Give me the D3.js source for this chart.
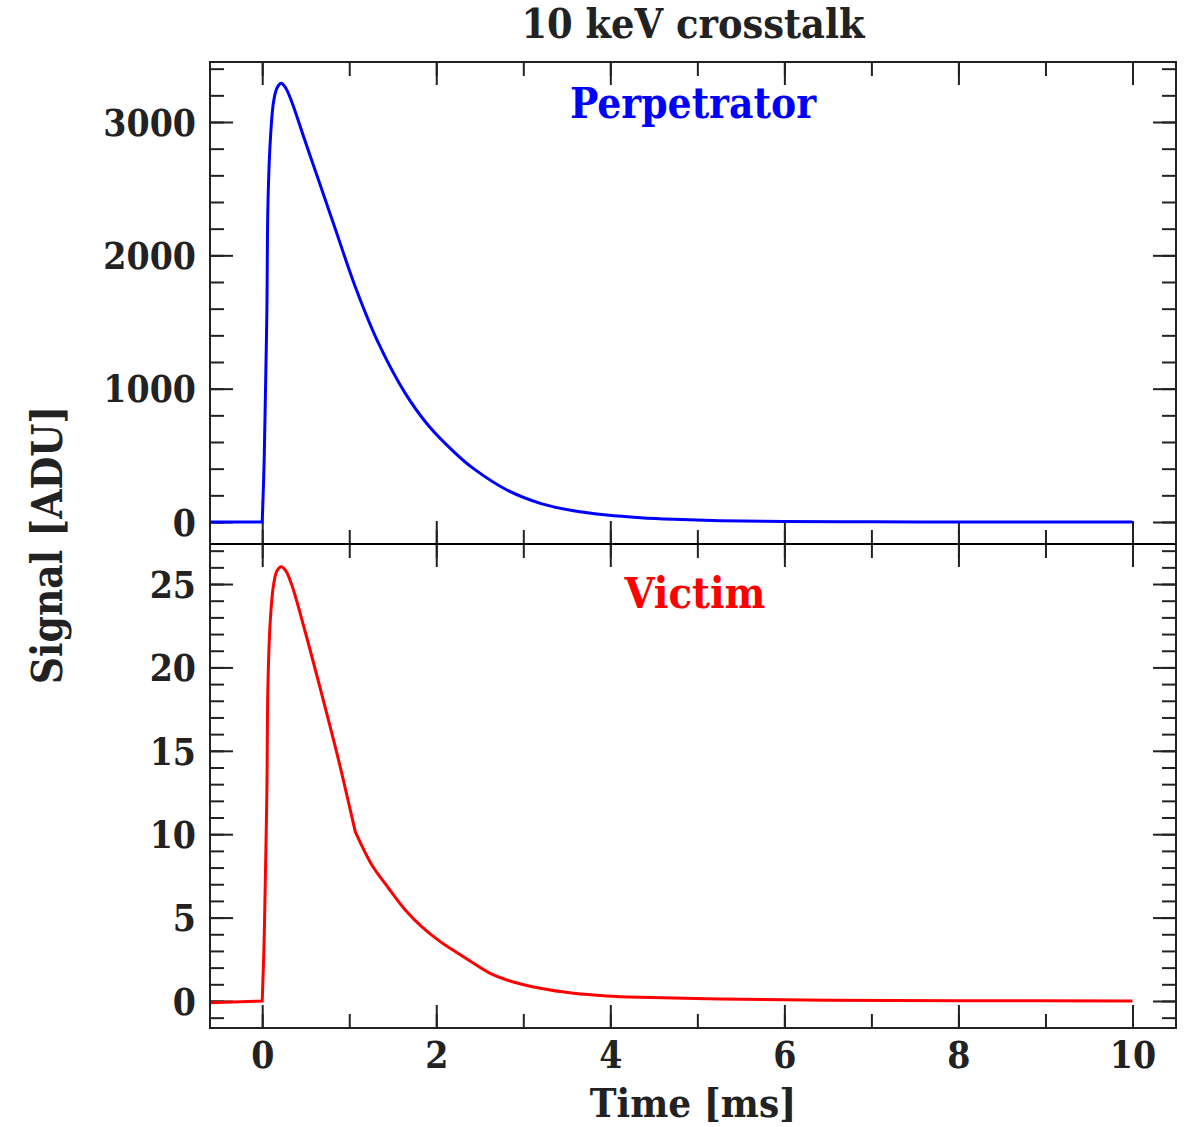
<!DOCTYPE html>
<html><head><meta charset="utf-8">
<script src="https://cdn.jsdelivr.net/npm/d3@7"></script>
<style>
html,body{margin:0;padding:0;background:#fff;}
svg text{font-family:"DejaVu Serif Condensed","DejaVu Serif",serif;font-weight:bold;}
</style></head>
<body>
<svg id="c" width="1189" height="1127"></svg>
<script>
// ---- data ----
const titleText = "10 keV crosstalk";
const xLabel = "Time [ms]";
const yLabel = "Signal [ADU]";
const perpName = "Perpetrator";
const victimName = "Victim";

const perpT = [-0.6, 0.0, 0.02, 0.034, 0.054, 0.065, 0.092, 0.13, 0.17, 0.218, 0.27, 0.34, 0.494, 0.647, 0.839, 1.069, 1.337, 1.644, 1.912, 2.218, 2.429, 2.812, 3.195, 3.578, 3.96, 4.345, 4.73, 5.26, 6.0, 7.0, 8.0, 9.0, 10.0];
const perpV = [0, 0, 400, 855, 1605, 2355, 2850, 3150, 3255, 3290, 3255, 3150, 2855, 2565, 2200, 1765, 1340, 965, 722, 517, 400, 240, 140, 84, 52, 32, 20, 10, 4, 1, 0, 0, 0];
const perpBreaks = [1];          // indices where the trace has a sharp corner

const victT = [-0.6, 0.0, 0.02, 0.034, 0.054, 0.065, 0.092, 0.13, 0.17, 0.218, 0.27, 0.34, 0.494, 0.686, 0.877, 1.069, 1.26, 1.452, 1.644, 1.835, 2.046, 2.218, 2.429, 2.62, 2.812, 3.195, 3.578, 3.96, 4.345, 5.26, 6.5, 8.0, 10.0];
const victV = [-0.1, 0, 3.2, 6.76, 12.75, 18.75, 22.74, 24.94, 25.8, 26.04, 25.8, 24.94, 22.14, 18.35, 14.45, 10.15, 8.15, 6.76, 5.46, 4.45, 3.56, 2.96, 2.26, 1.66, 1.26, 0.76, 0.46, 0.30, 0.22, 0.12, 0.05, 0.02, 0.0];
const victBreaks = [1, 15];

const xMajor = [0, 2, 4, 6, 8, 10];
const xMinor = [0, 1, 2, 3, 4, 5, 6, 7, 8, 9, 10];
const topMajor = [0, 1000, 2000, 3000];
const topMinor = d3.range(0, 3401, 200);
const botMajor = [0, 5, 10, 15, 20, 25];
const botMinor = d3.range(-1, 28, 1);

// ---- layout ----
const L = 210, R = 1176, T = 62, M = 544, B = 1028;
const MAJ = 23, MIN = 14;
const ink = "#222";

const svg = d3.select("#c");
const x = d3.scaleLinear().domain([-0.6, 10.5]).range([L, R]);
const yTop = d3.scaleLinear().domain([-165, 3450]).range([M, T]);
const yBot = d3.scaleLinear().domain([-1.62, 27.4]).range([B, M]);

function styleAxis(g){
  g.select(".domain").remove();
  g.selectAll(".tick line").attr("stroke", ink).attr("stroke-width", 2);
  g.selectAll(".tick text").attr("fill", ink);
}

function xAxes(yPos, dir, labels){
  const mk = (vals, size, fmt) => {
    const a = d3.axisBottom(x).tickValues(vals).tickSizeInner(dir*size).tickSizeOuter(0);
    if (!fmt) a.tickFormat("");
    const g = svg.append("g").attr("transform", `translate(0,${yPos})`).call(a);
    styleAxis(g);
    return g;
  };
  mk(xMinor, MIN, false);
  const g = mk(xMajor, MAJ, labels);
  if (labels){
    g.selectAll(".tick text").attr("y", 40).attr("dy", 0).attr("font-size", 37);
  }
}
function yAxes(scale, major, minor, fmt){
  const mk = (vals, size, side, lab) => {
    const a = (side === "left" ? d3.axisLeft(scale) : d3.axisRight(scale))
      .tickValues(vals).tickSizeInner(-size).tickSizeOuter(0).tickPadding(14);
    if (!lab) a.tickFormat(""); else a.tickFormat(fmt);
    const g = svg.append("g").attr("transform", `translate(${side==="left"?L:R},0)`).call(a);
    styleAxis(g);
    if (lab) g.selectAll(".tick text").attr("font-size", 37).attr("dy", "0.36em");
  };
  mk(minor, MIN, "left", false);
  mk(major, MAJ, "left", true);
  mk(minor, MIN, "right", false);
  mk(major, MAJ, "right", false);
}

// top panel
yAxes(yTop, topMajor, topMinor.filter(v => v >= -165 && v <= 3450), d3.format("d"));
xAxes(T, 1, false);
xAxes(M, -1, false);
// bottom panel
yAxes(yBot, botMajor, botMinor.filter(v => v >= -1.62 && v <= 27.4), d3.format("d"));
xAxes(M, 1, false);
xAxes(B, -1, true);

// clip paths
svg.append("clipPath").attr("id","cpTop").append("rect").attr("x",L).attr("y",T).attr("width",R-L).attr("height",M-T);
svg.append("clipPath").attr("id","cpBot").append("rect").attr("x",L).attr("y",M).attr("width",R-L).attr("height",B-M);

function pieces(ts, vs, breaks){
  const cuts = [0, ...breaks, ts.length-1];
  const out = [];
  for (let k = 0; k < cuts.length-1; k++){
    const seg = [];
    for (let i = cuts[k]; i <= cuts[k+1]; i++) seg.push([ts[i], vs[i]]);
    out.push(seg);
  }
  return out;
}
function drawTrace(ts, vs, breaks, yScale, color, clip){
  const line = d3.line().x(d => x(d[0])).y(d => yScale(d[1])).curve(d3.curveCatmullRom.alpha(0.5));
  const segs = pieces(ts, vs, breaks);
  const path = segs.map((s, k) => {
    let d = line(s);
    if (k > 0) d = "L" + d.slice(1);  // continue the same path
    return d;
  }).join("");
  svg.append("path").attr("d", path).attr("fill","none").attr("stroke",color)
    .attr("stroke-width",3).attr("stroke-linejoin","miter").attr("clip-path",`url(#${clip})`);
}
drawTrace(perpT, perpV, perpBreaks, yTop, "#0000ff", "cpTop");
drawTrace(victT, victV, victBreaks, yBot, "#ff0000", "cpBot");

// frames
svg.append("rect").attr("x",L).attr("y",T).attr("width",R-L).attr("height",B-T)
  .attr("fill","none").attr("stroke",ink).attr("stroke-width",2);
svg.append("line").attr("x1",L).attr("x2",R).attr("y1",M).attr("y2",M).attr("stroke","#000").attr("stroke-width",2);

// texts
const cx = (L+R)/2;
svg.append("text").attr("x",cx).attr("y",38).attr("text-anchor","middle").attr("font-size",41).attr("fill",ink).text(titleText);
svg.append("text").attr("x",cx).attr("y",118).attr("text-anchor","middle").attr("font-size",42).attr("fill","#0000ff").text(perpName);
svg.append("text").attr("x",cx+2).attr("y",608).attr("text-anchor","middle").attr("font-size",43).attr("fill","#ff0000").text(victimName);
svg.append("text").attr("x",cx).attr("y",1117).attr("text-anchor","middle").attr("font-size",40).attr("fill",ink).text(xLabel);
svg.append("text").attr("transform",`translate(62,${(T+B)/2}) rotate(-90)`).attr("text-anchor","middle").attr("font-size",42).attr("fill",ink).text(yLabel);
</script>
</body></html>
